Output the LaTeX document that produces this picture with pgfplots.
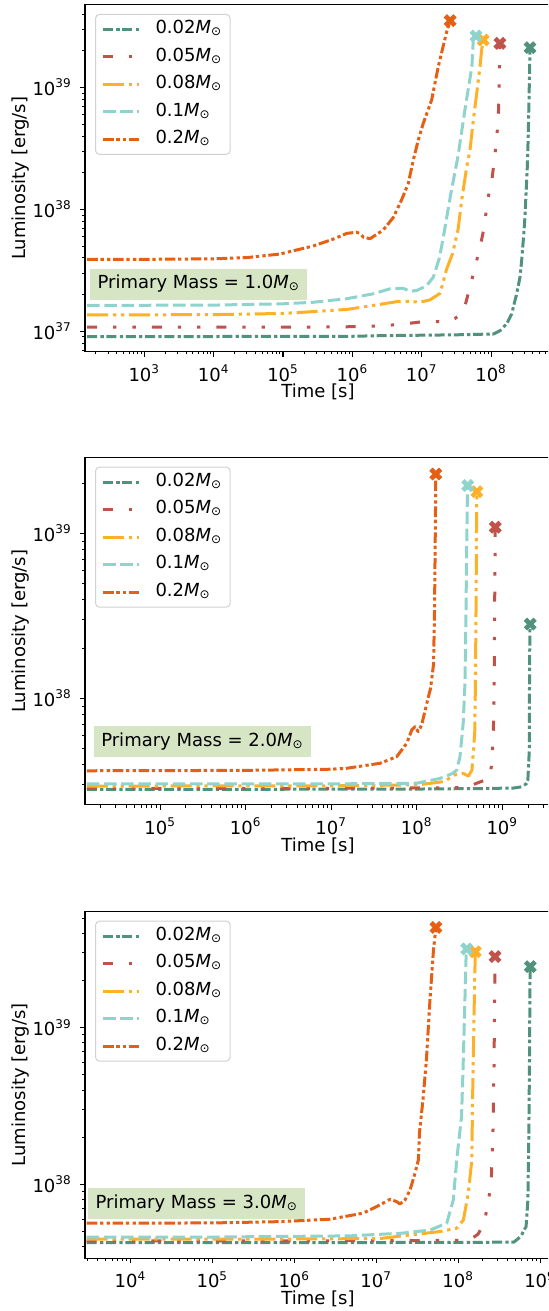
\documentclass[border=0pt]{standalone}
\usepackage{fontspec}
\setmainfont{DejaVu Sans}
\usepackage{pgfplots}
\pgfplotsset{compat=1.18}
\pgfkeys{/pgf/number format/assume math mode=true}

\definecolor{cgreen}{RGB}{80,147,122}
\definecolor{cred}{RGB}{192,82,74}
\definecolor{cyel}{RGB}{255,176,41}
\definecolor{cteal}{RGB}{142,212,205}
\definecolor{corg}{RGB}{229,95,21}
\definecolor{boxgreen}{RGB}{214,229,195}

\newcommand{\Msun}{\textit{M}\textsubscript{\char"2299}}

\pgfdeclareplotmark{Xf}{%
\pgfpathmoveto{\pgfqpoint{-0.495\pgfplotmarksize}{0.919\pgfplotmarksize}}%
\pgfpathlineto{\pgfqpoint{0pt}{0.424\pgfplotmarksize}}%
\pgfpathlineto{\pgfqpoint{0.495\pgfplotmarksize}{0.919\pgfplotmarksize}}%
\pgfpathlineto{\pgfqpoint{0.919\pgfplotmarksize}{0.495\pgfplotmarksize}}%
\pgfpathlineto{\pgfqpoint{0.424\pgfplotmarksize}{0pt}}%
\pgfpathlineto{\pgfqpoint{0.919\pgfplotmarksize}{-0.495\pgfplotmarksize}}%
\pgfpathlineto{\pgfqpoint{0.495\pgfplotmarksize}{-0.919\pgfplotmarksize}}%
\pgfpathlineto{\pgfqpoint{0pt}{-0.424\pgfplotmarksize}}%
\pgfpathlineto{\pgfqpoint{-0.495\pgfplotmarksize}{-0.919\pgfplotmarksize}}%
\pgfpathlineto{\pgfqpoint{-0.919\pgfplotmarksize}{-0.495\pgfplotmarksize}}%
\pgfpathlineto{\pgfqpoint{-0.424\pgfplotmarksize}{0pt}}%
\pgfpathlineto{\pgfqpoint{-0.919\pgfplotmarksize}{0.495\pgfplotmarksize}}%
\pgfpathclose\pgfusepathqfillstroke}

\tikzset{
 lA/.style={color=cgreen, line width=1.5pt, line join=round, dash pattern=on 5pt off 1.65pt on 1.65pt off 1.35pt},
 lB/.style={color=cred, line width=1.5pt, line join=round, dash pattern=on 5pt off 8pt on 1.65pt off 8pt on 1.65pt off 8pt},
 lC/.style={color=cyel, line width=1.5pt, line join=round, dash pattern=on 10.5pt off 2.4pt on 1.65pt off 2.35pt on 1.65pt off 2.4pt},
 lD/.style={color=cteal, line width=1.5pt, line join=round, dash pattern=on 6.25pt off 2.35pt},
 lE/.style={color=corg, line width=1.5pt, line join=round, dash pattern=on 5.3pt off 1.35pt on 1.65pt off 1.65pt on 1.65pt off 1.35pt},
}
\pgfplotsset{
 mk/.style={only marks, mark=Xf, mark size=3.2pt, mark options={solid, fill=#1, draw=#1, line width=0.4pt}, color=#1, forget plot},
 panel/.style={
  scale only axis, width=233pt,
  tick pos=left, tick align=outside,
  major tick length=2.45pt, minor tick length=1.4pt,
  every tick/.append style={black, line width=0.55pt},
  every minor tick/.append style={line width=0.4pt},
  axis line style={line width=0.55pt},
  xtick={1e1,1e2,1e3,1e4,1e5,1e6,1e7,1e8,1e9,1e10},
  ytick={1e35,1e36,1e37,1e38,1e39,1e40},
  xticklabel style={yshift=-0.9pt},
  yticklabel style={xshift=-1pt},
  log number format basis/.code 2 args={##1\textsuperscript{\pgfmathprintnumber{##2}}},
  xlabel={Time [s]}, ylabel={Luminosity [erg/s]},
  xlabel style={at={(axis description cs:0.5,-0.117)}, anchor=center},
  ylabel style={at={(axis description cs:-0.1373,0.5)}, anchor=center},
  legend cell align=left,
  legend image code/.code={\draw[##1] (0pt,0pt) -- (18pt,0pt);},
  legend style={at={(axis description cs:0.0215,0.974)}, anchor=north west,
    draw=black!18, line width=0.5pt, rounded corners=2pt, fill=white, fill opacity=0.8, text opacity=1,
    inner xsep=3pt, inner ysep=2pt, row sep=2.75pt, column sep=6.5pt,
    nodes={inner sep=1pt, text height=6.6pt, text depth=2.4pt}},
 }
}

\begin{document}
\fontsize{9pt}{10.8pt}\selectfont
\begin{tikzpicture}
\useasboundingbox (0,0) rectangle (274pt,655.5pt);
\clip (0,0) rectangle (274pt,655.5pt);

% ---------------- Panel 1 ----------------
\begin{loglogaxis}[panel, at={(42.5pt,479.65pt)}, anchor=south west, height=173.35pt,
  xmin=139.6, xmax=7.31e8, ymin=6.81e36, ymax=4.75e39]
\addplot[lA] coordinates {(150,9.04e36) (1e4,9.06e36) (1e6,9.1e36) (2.5e6,9.2e36) (3e7,9.35e36) (1.08e8,9.5e36) (1.34e8,1.01e37) (1.68e8,1.15e37) (1.98e8,1.39e37) (2.34e8,2.03e37) (2.61e8,2.78e37) (2.76e8,3.81e37) (2.91e8,5.56e37) (3.08e8,8.65e37) (3.19e8,1.35e38) (3.33e8,2.23e38) (3.44e8,4.19e38) (3.52e8,7.87e38) (3.6e8,1.48e39) (3.64e8,2.12e39)};
\addlegendentry{0.02\Msun}
\addplot[lB] coordinates {(150,1.08e37) (1e5,1.08e37) (1e6,1.09e37) (2.79e6,1.11e37) (5.7e6,1.15e37) (1.18e7,1.21e37) (2.29e7,1.19e37) (3.0e7,1.27e37) (3.97e7,1.43e37) (4.96e7,2.3e37) (6.2e7,3.81e37) (6.92e7,4.9e37) (8.17e7,7.63e37) (8.64e7,1.11e38) (1.02e8,1.68e38) (1.11e8,2.53e38) (1.2e8,3.69e38) (1.27e8,5.74e38) (1.3e8,8.65e38) (1.31e8,1.26e39) (1.34e8,1.91e39) (1.34e8,2.3e39)};
\addlegendentry{0.05\Msun}
\addplot[lC] coordinates {(150,1.36e37) (1e4,1.37e37) (1e5,1.4e37) (2.74e5,1.45e37) (8.3e5,1.51e37) (2.0e6,1.63e37) (4.36e6,1.75e37) (6.8e6,1.76e37) (9.4e6,1.73e37) (1.32e7,1.81e37) (1.84e7,2.05e37) (2.29e7,3.25e37) (2.78e7,4.32e37) (3.35e7,6.9e37) (3.77e7,1.19e38) (4.45e7,2.23e38) (4.96e7,3.05e38) (5.54e7,5.38e38) (6.2e7,8.93e38) (6.92e7,1.48e39) (7.31e7,2.03e39) (7.72e7,2.45e39)};
\addlegendentry{0.08\Msun}
\addplot[lD] coordinates {(150,1.63e37) (1e4,1.64e37) (1e5,1.68e37) (2.74e5,1.73e37) (8.3e5,1.85e37) (2.0e6,2.03e37) (3.49e6,2.23e37) (5.4e6,2.25e37) (6.8e6,2.13e37) (8.5e6,2.16e37) (1.18e7,2.37e37) (1.47e7,2.78e37) (1.8e7,4.0e37) (2.09e7,6.31e37) (2.63e7,1.35e38) (3.32e7,2.69e38) (4.19e7,6.52e38) (5.28e7,1.48e39) (5.54e7,2.45e39) (6.05e7,2.64e39)};
\addlegendentry{0.1\Msun}
\addplot[lE] coordinates {(150,3.88e37) (1e3,3.89e37) (1e4,3.93e37) (3.0e4,4.02e37) (9.0e4,4.3e37) (2.7e5,5.0e37) (5.3e5,5.7e37) (8.3e5,6.35e37) (1.15e6,6.5e37) (1.3e6,6.3e37) (1.45e6,5.9e37) (1.8e6,5.75e37) (2.5e6,6.5e37) (2.8e6,6.8e37) (3.9e6,8.6e37) (5.1e6,1.19e38) (6.4e6,1.63e38) (7.55e6,2.53e38) (8.9e6,3.69e38) (1.05e7,5.06e38) (1.39e7,7.9e38) (1.73e7,1.48e39) (2.29e7,2.86e39) (2.57e7,3.53e39)};
\addlegendentry{0.2\Msun}
\addplot[mk=cgreen] coordinates {(3.64e8,2.12e39)};
\addplot[mk=cred] coordinates {(1.34e8,2.3e39)};
\addplot[mk=cyel] coordinates {(7.72e7,2.45e39)};
\addplot[mk=cteal] coordinates {(6.05e7,2.64e39)};
\addplot[mk=corg] coordinates {(2.57e7,3.53e39)};
\end{loglogaxis}

% ---------------- Panel 2 ----------------
\begin{loglogaxis}[panel, at={(42.5pt,253pt)}, anchor=south west, height=173.65pt,
  xmin=1.324e4, xmax=3.71e9, ymin=2.26e37, ymax=2.88e39]
\addplot[lA] coordinates {(1.39e4,2.81e37) (1e6,2.81e37) (1e8,2.82e37) (5.48e8,2.84e37) (1.35e9,2.86e37) (1.69e9,2.91e37) (1.93e9,3.05e37) (1.99e9,3.2e37) (2.07e9,4.87e37) (2.08e9,1.23e38) (2.1e9,2.48e38) (2.12e9,2.82e38)};
\addlegendentry{0.02\Msun}
\addplot[lB] coordinates {(1.39e4,2.85e37) (1e7,2.85e37) (2.24e8,2.87e37) (3.83e8,2.89e37) (4.62e8,3.01e37) (7.06e8,3.27e37) (7.62e8,4.13e37) (7.9e8,7.05e37) (8.06e8,1.35e38) (8.13e8,3.13e38) (8.2e8,6.28e38) (8.28e8,1.09e39)};
\addlegendentry{0.05\Msun}
\addplot[lC] coordinates {(1.39e4,2.94e37) (1e7,2.95e37) (1.03e8,2.99e37) (2.08e8,3.13e37) (2.76e8,3.43e37) (3.49e8,3.51e37) (4.02e8,3.38e37) (4.42e8,3.68e37) (4.76e8,6.14e37) (4.85e8,1.23e38) (4.94e8,3.94e38) (4.99e8,1.0e39) (5.04e8,1.79e39)};
\addlegendentry{0.08\Msun}
\addplot[lD] coordinates {(1.39e4,3.03e37) (1e7,3.03e37) (1.0e8,3.06e37) (1.87e8,3.27e37) (2.6e8,3.5e37) (2.93e8,3.67e37) (3.2e8,4.43e37) (3.49e8,7.05e37) (3.66e8,1.23e38) (3.76e8,3.13e38) (3.83e8,7.93e38) (3.9e8,1.59e39) (3.94e8,1.95e39)};
\addlegendentry{0.1\Msun}
\addplot[lE] coordinates {(1.39e4,3.64e37) (1e6,3.66e37) (1e7,3.72e37) (1.52e7,3.77e37) (3.72e7,4.04e37) (5.83e7,4.43e37) (7.64e7,5.34e37) (8.74e7,6.43e37) (9.55e7,6.73e37) (1.04e8,6.28e37) (1.14e8,6.89e37) (1.31e8,9.33e37) (1.45e8,1.15e38) (1.57e8,1.6e38) (1.61e8,3.13e38) (1.64e8,7.93e38) (1.66e8,1.59e39) (1.67e8,2.29e39)};
\addlegendentry{0.2\Msun}
\addplot[mk=cgreen] coordinates {(2.12e9,2.82e38)};
\addplot[mk=cred] coordinates {(8.28e8,1.09e39)};
\addplot[mk=cyel] coordinates {(5.04e8,1.79e39)};
\addplot[mk=cteal] coordinates {(3.94e8,1.95e39)};
\addplot[mk=corg] coordinates {(1.67e8,2.29e39)};
\end{loglogaxis}

% ---------------- Panel 3 ----------------
\begin{loglogaxis}[panel, at={(42.5pt,26.35pt)}, anchor=south west, height=173.3pt,
  xmin=2.79e3, xmax=1.36e9, ymin=3.37e37, ymax=5.5e39]
\addplot[lA] coordinates {(2.93e3,4.24e37) (1e6,4.24e37) (1e8,4.25e37) (4.79e8,4.27e37) (5.82e8,4.64e37) (6.75e8,5.37e37) (7.1e8,7.94e37) (7.3e8,2.12e38) (7.45e8,7.2e38) (7.52e8,1.92e39) (7.6e8,2.45e39)};
\addlegendentry{0.02\Msun}
\addplot[lB] coordinates {(2.93e3,4.35e37) (1e6,4.35e37) (1e8,4.38e37) (1.4e8,4.42e37) (1.75e8,4.8e37) (2.08e8,5.64e37) (2.29e8,7.38e37) (2.53e8,1.01e38) (2.66e8,2.12e38) (2.74e8,5.64e38) (2.79e8,1.5e39) (2.82e8,2.84e39)};
\addlegendentry{0.05\Msun}
\addplot[lC] coordinates {(2.93e3,4.46e37) (1e6,4.47e37) (1.11e7,4.5e37) (6.02e7,4.99e37) (9.61e7,5.24e37) (1.16e8,5.92e37) (1.33e8,8.76e37) (1.47e8,1.43e38) (1.5e8,3.45e38) (1.55e8,9.2e38) (1.59e8,1.92e39) (1.62e8,3.05e39)};
\addlegendentry{0.08\Msun}
\addplot[lD] coordinates {(2.93e3,4.59e37) (1e5,4.6e37) (1e6,4.65e37) (4.73e6,4.68e37) (2.07e7,4.87e37) (4.55e7,5.1e37) (7.26e7,5.64e37) (8.73e7,7.94e37) (9.6e7,1.43e38) (1.1e8,2.7e38) (1.15e8,5.64e38) (1.21e8,1.5e39) (1.25e8,2.84e39) (1.27e8,3.18e39)};
\addlegendentry{0.1\Msun}
\addplot[lE] coordinates {(2.93e3,5.64e37) (1e5,5.66e37) (6.7e5,5.77e37) (2.73e6,5.98e37) (6.96e6,6.54e37) (1.11e7,7.38e37) (1.48e7,8.02e37) (1.78e7,7.74e37) (1.95e7,7.48e37) (2.25e7,7.94e37) (2.59e7,9.19e37) (2.98e7,1.18e38) (3.27e7,1.43e38) (3.37e7,2.12e38) (3.72e7,3.45e38) (4.1e7,6.22e38) (4.53e7,1.5e39) (5.0e7,3.13e39) (5.36e7,4.36e39)};
\addlegendentry{0.2\Msun}
\addplot[mk=cgreen] coordinates {(7.6e8,2.45e39)};
\addplot[mk=cred] coordinates {(2.82e8,2.84e39)};
\addplot[mk=cyel] coordinates {(1.62e8,3.05e39)};
\addplot[mk=cteal] coordinates {(1.27e8,3.18e39)};
\addplot[mk=corg] coordinates {(5.36e7,4.36e39)};
\end{loglogaxis}

\node[fill=boxgreen, anchor=west, inner xsep=3.6pt, inner ysep=0pt, minimum height=15.5pt, text height=6.8pt, text depth=2pt] at (45pt,513.4pt) {Primary Mass = 1.0\Msun};
\node[fill=boxgreen, anchor=west, inner xsep=3.6pt, inner ysep=0pt, minimum height=15.5pt, text height=6.8pt, text depth=2pt] at (46.85pt,284.5pt) {Primary Mass = 2.0\Msun};
\node[fill=boxgreen, anchor=west, inner xsep=3.6pt, inner ysep=0pt, minimum height=15.5pt, text height=6.8pt, text depth=2pt] at (44pt,53.85pt) {Primary Mass = 3.0\Msun};
\end{tikzpicture}
\end{document}
